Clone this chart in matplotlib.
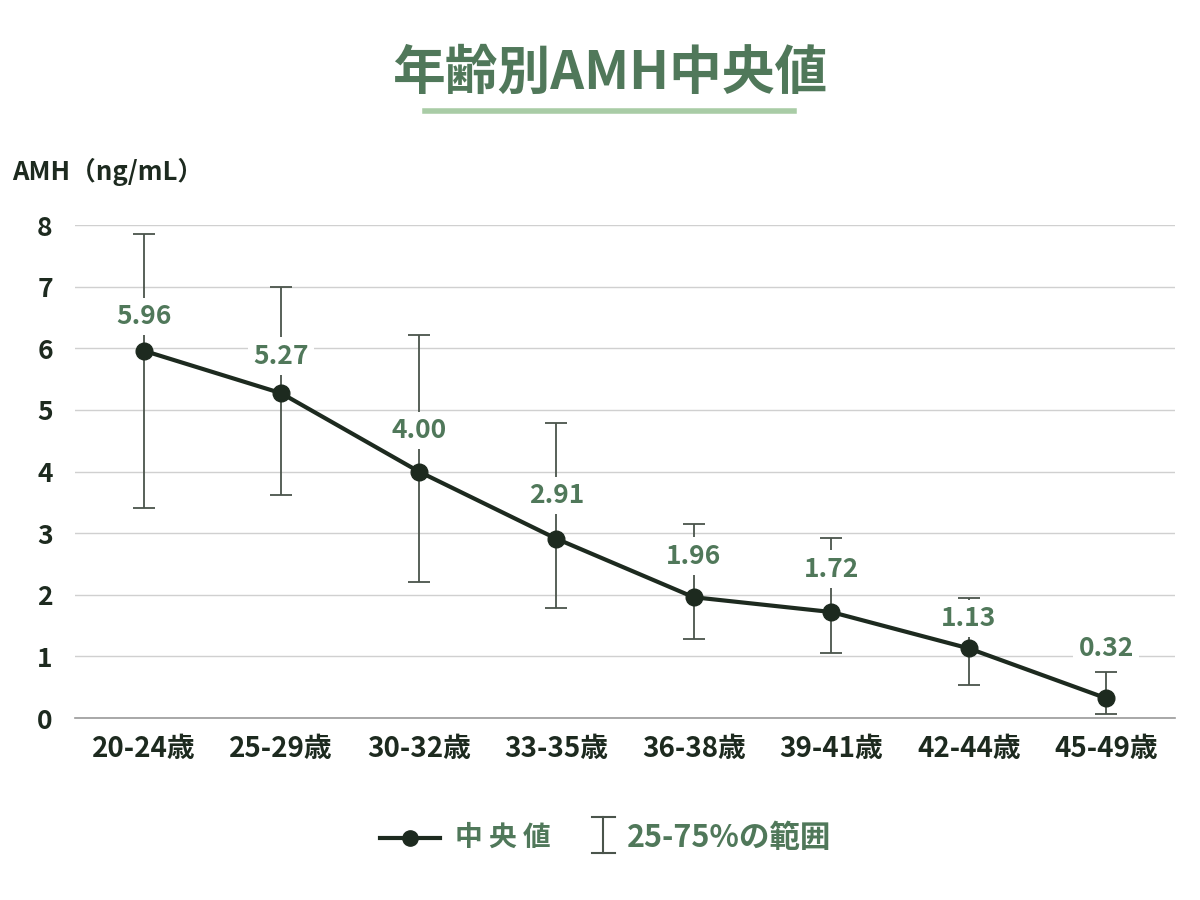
import numpy as np
import matplotlib.pyplot as plt
from matplotlib.lines import Line2D

plt.rcParams['font.family'] = ['Noto Sans CJK JP', 'DejaVu Sans']

# data
ages = ['20-24歳', '25-29歳', '30-32歳', '33-35歳', '36-38歳', '39-41歳', '42-44歳', '45-49歳']
median = [5.96, 5.27, 4.00, 2.91, 1.96, 1.72, 1.13, 0.32]
q25 = [3.40, 3.62, 2.21, 1.79, 1.28, 1.06, 0.54, 0.07]
q75 = [7.86, 6.99, 6.22, 4.79, 3.15, 2.92, 1.95, 0.75]

green = '#50785a'
dark = '#1d2a1f'

fig = plt.figure(figsize=(12, 9), dpi=100)
ax = fig.add_axes([0.0625, 0.2022, 0.9167, 0.5478])

x = np.arange(len(ages))
med = np.array(median)
lo = med - np.array(q25)
hi = np.array(q75) - med

ax.errorbar(x, med, yerr=[lo, hi], fmt='none', ecolor='#4a544b', elinewidth=1.3,
            capsize=8, capthick=1.3, zorder=2)
ax.plot(x, med, color=dark, lw=3, marker='o', ms=12, zorder=4)

# value labels above points (px offsets)
offs = [34, 37, 41, 43, 41, 43, 30, 50]
for xi, v, o in zip(x, median, offs):
    ax.annotate(f'{v:.2f}', (xi, v), xytext=(0, o * 0.72), textcoords='offset points',
                ha='center', va='center', fontsize=19, fontweight='bold', color=green,
                bbox=dict(boxstyle='square,pad=0.2', fc='white', ec='none'), zorder=3)

ax.set_xlim(-0.5, 7.5)
ax.set_ylim(0, 8)
ax.set_yticks(range(0, 9))
ax.set_xticks(x)
ax.set_xticklabels(ages)
ax.grid(axis='y', color='#d0d0d0', lw=1, zorder=0)
ax.set_axisbelow(True)
for s in ['top', 'right', 'left']:
    ax.spines[s].set_visible(False)
ax.spines['bottom'].set_color('#9a9a9a')
ax.spines['bottom'].set_linewidth(1.2)
ax.tick_params(axis='x', length=0, labelsize=20, labelcolor=dark, pad=12)
ax.tick_params(axis='y', length=0, labelsize=19, labelcolor=dark, pad=16)
for t in ax.get_xticklabels() + ax.get_yticklabels():
    t.set_fontweight('bold')

fig.text(0.01, 0.809, 'AMH（ng/mL）', fontsize=18.5, fontweight='bold', color=dark, va='center')

# title and underline
fig.text(0.508, 0.918, '年齢別AMH中央値', fontsize=38, fontweight='bold', color=green,
         ha='center', va='center')
fig.add_artist(Line2D([0.354, 0.662], [0.877, 0.877], color='#a9cca6', lw=4))

# legend drawn by hand
ly = 1 - 838 / 900
fig.add_artist(Line2D([380 / 1200, 440 / 1200], [ly, ly], color=dark, lw=3))
fig.add_artist(Line2D([410 / 1200], [ly], color=dark, marker='o', ms=11))
fig.text(455 / 1200, ly, '中 央 値', fontsize=20, fontweight='bold', color=green, va='center')
fig.add_artist(Line2D([603 / 1200, 603 / 1200], [1 - 817 / 900, 1 - 853 / 900], color='#4a544b', lw=1.5))
fig.add_artist(Line2D([592 / 1200, 615 / 1200], [1 - 817 / 900, 1 - 817 / 900], color='#4a544b', lw=1.5))
fig.add_artist(Line2D([592 / 1200, 615 / 1200], [1 - 853 / 900, 1 - 853 / 900], color='#4a544b', lw=1.5))
fig.text(627 / 1200, ly, '25-75%の範囲', fontsize=22, fontweight='bold', color=green, va='center')

fig.savefig('out.png')
